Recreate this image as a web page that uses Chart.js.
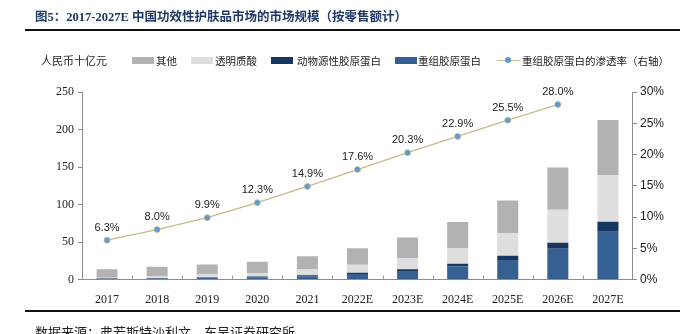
<!DOCTYPE html>
<html>
<head>
<meta charset="utf-8">
<script src="https://cdn.jsdelivr.net/npm/chart.js@4/dist/chart.umd.min.js"></script>
<style>
  body { margin: 0; background: #fff; }
  #wrap { position: relative; width: 680px; height: 334px; overflow: hidden; }
  #chart { position: absolute; left: 0; top: 0; }
  .title { position: absolute; left: 35px; top: 6px; font: bold 12.5px "Liberation Serif", "Noto Sans CJK SC", serif; color: #1f3864; white-space: nowrap; }
  .rule { position: absolute; left: 25px; right: 0; height: 2px; background: #111; }
  .unit { position: absolute; left: 41px; top: 52px; font: 11px "Noto Sans CJK SC", sans-serif; color: #222; }
  .legend { position: absolute; top: 53px; font: 10.5px "Noto Sans CJK SC", serif; color: #222; white-space: nowrap; }
  .sw { position: absolute; top: 57px; width: 22px; height: 7px; }
  .foot { position: absolute; left: 35px; top: 322px; font: 13px "Noto Sans CJK SC", sans-serif; color: #222; white-space: nowrap; }
</style>
</head>
<body>
<div id="wrap">
  <canvas id="chart" width="680" height="334"></canvas>
  <div class="title">图5：2017-2027E 中国功效性护肤品市场的市场规模（按零售额计）</div>
  <div class="rule" style="top:29px"></div>
  <div class="unit">人民币十亿元</div>
  <div class="sw" style="left:132px;background:#b2b2b2"></div>
  <div class="legend" style="left:156px">其他</div>
  <div class="sw" style="left:191px;background:#dedede"></div>
  <div class="legend" style="left:215px">透明质酸</div>
  <div class="sw" style="left:271px;background:#17375e"></div>
  <div class="legend" style="left:297px">动物源性胶原蛋白</div>
  <div class="sw" style="left:395px;background:#376092"></div>
  <div class="legend" style="left:418px">重组胶原蛋白</div>
  <div style="position:absolute;left:497px;top:60px;width:23px;height:1px;background:#c8b98b"></div>
  <div style="position:absolute;left:505px;top:57px;width:6px;height:6px;border-radius:50%;background:#5b9bd5"></div>
  <div class="legend" style="left:522px">重组胶原蛋白的渗透率（右轴）</div>
  <div class="rule" style="top:310px"></div>
  <div class="foot">数据来源：弗若斯特沙利文，东吴证券研究所</div>
</div>
<script>
const years = ["2017", "2018", "2019", "2020", "2021", "2022E", "2023E", "2024E", "2025E", "2026E", "2027E"];
const recombinant = [0.9, 1.4, 2.0, 3.0, 4.6, 7.3, 11.3, 17.5, 26.2, 41.2, 63.8];
const animal = [0.4, 0.6, 0.9, 1.0, 1.2, 1.8, 2.6, 3.6, 5.6, 8.0, 13.3];
const hyaluronic = [1.2, 2.2, 4.0, 4.9, 7.5, 10.6, 14.6, 21.0, 30.2, 43.9, 62.0];
const others = [11.2, 12.9, 13.3, 15.0, 17.7, 22.0, 27.5, 34.6, 43.5, 56.3, 73.5];
const penetration = [6.3, 8.0, 9.9, 12.3, 14.9, 17.6, 20.3, 22.9, 25.5, 28.0, null];
const leftTicks = [0, 50, 100, 150, 200, 250];
const rightTicks = [0, 5, 10, 15, 20, 25, 30];

const serif = "'Liberation Serif', 'Times New Roman', serif";
const sans = "'Liberation Sans', Arial, sans-serif";

// percent labels above the line points
const pointLabels = {
  id: "pointLabels",
  afterDatasetsDraw(chart) {
    const ctx = chart.ctx;
    const meta = chart.getDatasetMeta(4);
    ctx.save();
    ctx.font = "11px " + sans;
    ctx.fillStyle = "#222";
    ctx.textAlign = "center";
    ctx.textBaseline = "bottom";
    meta.data.forEach((pt, i) => {
      if (penetration[i] == null) return;
      ctx.fillText(penetration[i].toFixed(1) + "%", pt.x, pt.y - 7);
    });
    ctx.restore();
  },
};

// small upward ticks between categories on the x axis
const innerTicks = {
  id: "innerTicks",
  afterDraw(chart) {
    const ctx = chart.ctx;
    const x = chart.scales.x;
    const bottom = chart.chartArea.bottom;
    ctx.save();
    ctx.strokeStyle = "#999";
    ctx.lineWidth = 1;
    for (let i = 1; i < years.length; i++) {
      const px = Math.round((x.getPixelForValue(i - 1) + x.getPixelForValue(i)) / 2) + 0.5;
      ctx.beginPath();
      ctx.moveTo(px, bottom - 4);
      ctx.lineTo(px, bottom);
      ctx.stroke();
    }
    ctx.restore();
  },
};

const barDefaults = { stack: "s", yAxisID: "y", barPercentage: 0.42, categoryPercentage: 1, borderWidth: 0 };

new Chart(document.getElementById("chart").getContext("2d"), {
  type: "bar",
  data: {
    labels: years,
    datasets: [
      { ...barDefaults, label: "重组胶原蛋白", data: recombinant, backgroundColor: "#376092" },
      { ...barDefaults, label: "动物源性胶原蛋白", data: animal, backgroundColor: "#17375e" },
      { ...barDefaults, label: "透明质酸", data: hyaluronic, backgroundColor: "#dedede" },
      { ...barDefaults, label: "其他", data: others, backgroundColor: "#b2b2b2" },
      {
        type: "line",
        label: "重组胶原蛋白的渗透率（右轴）",
        data: penetration,
        yAxisID: "y1",
        borderColor: "#c8b98b",
        borderWidth: 1.3,
        pointRadius: 3,
        pointBackgroundColor: "#5b9bd5",
        pointBorderColor: "#c8b98b",
        pointBorderWidth: 0.8,
        tension: 0,
        order: -1,
      },
    ],
  },
  options: {
    responsive: false,
    animation: false,
    layout: { padding: { left: 52, right: 13, top: 92, bottom: 22 } },
    plugins: { legend: { display: false }, tooltip: { enabled: false } },
    scales: {
      x: {
        stacked: true,
        offset: true,
        grid: { display: false },
        border: { color: "#8c8c8c" },
        ticks: { color: "#222", font: { family: serif, size: 12 }, padding: 5 },
      },
      y: {
        stacked: true,
        min: 0,
        max: 250,
        afterBuildTicks: (s) => { s.ticks = leftTicks.map((v) => ({ value: v })); },
        grid: { drawOnChartArea: false, tickLength: 4, color: "#8c8c8c" },
        border: { color: "#8c8c8c" },
        ticks: { color: "#222", font: { family: serif, size: 12 }, padding: 4 },
      },
      y1: {
        position: "right",
        min: 0,
        max: 30,
        afterBuildTicks: (s) => { s.ticks = rightTicks.map((v) => ({ value: v })); },
        grid: { drawOnChartArea: false, tickLength: 4, color: "#8c8c8c" },
        border: { color: "#8c8c8c" },
        ticks: { color: "#222", font: { family: sans, size: 12 }, padding: 3, callback: (v) => v + "%" },
      },
    },
  },
  plugins: [pointLabels, innerTicks],
});
</script>
</body>
</html>
